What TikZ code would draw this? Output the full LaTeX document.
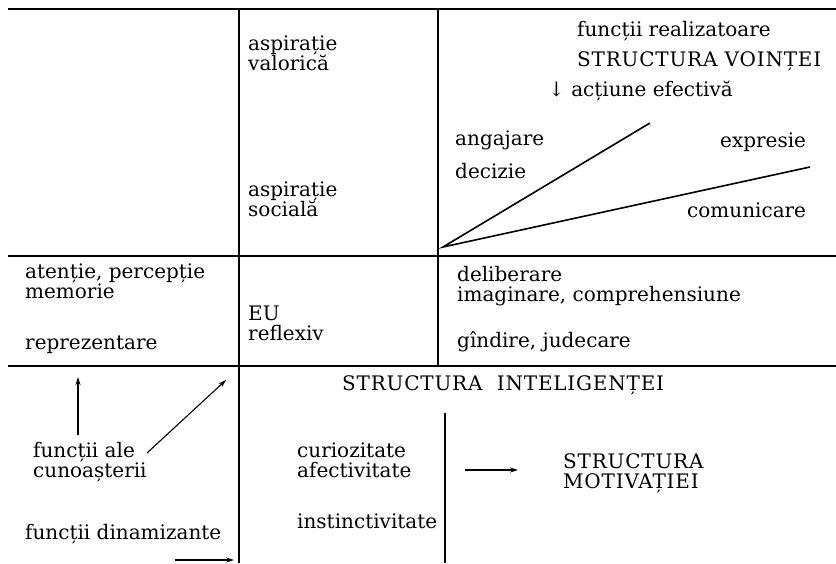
\documentclass[tikz,border=0pt]{standalone}
\usepackage{fontspec}
\setmainfont{DejaVu Serif}
\usetikzlibrary{arrows.meta}

\tikzset{
  lbl/.style={anchor=west, inner sep=0pt, align=left, font=\fontsize{20}{20}\selectfont},
  caps/.style={lbl, font=\fontsize{20}{20}\selectfont\addfontfeature{LetterSpace=4}},
  rule/.style={line width=1.5pt},
  arr/.style={line width=1.1pt, -{Stealth[length=8pt,width=5pt]}}
}

\begin{document}
\begin{tikzpicture}[x=1pt,y=-1pt]

    \useasboundingbox (0,0) rectangle (836,563);

    % Define the coordinates of the grid
    \coordinate (TL) at (8,9);
    \coordinate (TR) at (836,9);
    \coordinate (ML) at (8,256);
    \coordinate (MR) at (836,256);
    \coordinate (BL) at (8,366);
    \coordinate (BR) at (836,366);

    % Draw the grid lines
    \draw[rule] (TL) -- (TR);
    \draw[rule] (ML) -- (MR);
    \draw[rule] (BL) -- (BR);
    \draw[rule] (239,9) -- (239,563);
    \draw[rule] (438,9) -- (438,366);
    \draw[rule] (445,413) -- (445,563);

    % Top row
    \node[lbl] (asval) at (248,53) {aspirație\\valorică};
    \node[lbl] (assoc) at (248,199) {aspirație\\socială};
    \node[lbl] (funcreal) at (577,31) {funcții realizatoare};
    \node[caps] (voin) at (577,61) {STRUCTURA VOINȚEI};
    \node[lbl] (actiune) at (548,91) {↓ acțiune efectivă};
    \node[lbl] (angaj) at (455,140) {angajare};
    \node[lbl] (expr) at (720,142) {expresie};
    \node[lbl] (decizie) at (455,171) {decizie};
    \node[lbl] (comun) at (687,210) {comunicare};

    % The two lines of the angle
    \coordinate (apex) at (443,247);
    \coordinate (upEnd) at (650,123);
    \coordinate (lowEnd) at (810,167);
    \draw[line width=1.6pt] (upEnd) -- (apex) -- (lowEnd);

    % Middle row
    \node[lbl] (atentie) at (25,281) {atenție, percepție\\memorie};
    \node[lbl] (reprez) at (25,345) {reprezentare};
    \node[lbl] (eu) at (248,323) {EU\\reflexiv};
    \node[lbl] (delib) at (457,286) {deliberare\\imaginare, comprehensiune};
    \node[lbl] (gindire) at (457,342) {gîndire, judecare};

    % Bottom row
    \node[caps] (intelig) at (342,385) {STRUCTURA\ \ INTELIGENȚEI};
    \node[lbl] (cunoast) at (33,462) {funcții ale\\cunoașterii};
    \node[lbl] (dinam) at (25,534) {funcții dinamizante};
    \node[lbl] (curioz) at (297,460) {curiozitate\\afectivitate};
    \node[lbl] (instinct) at (297,521) {instinctivitate};
    \node[caps] (motiv) at (563,473) {STRUCTURA\\MOTIVAȚIEI};

    % Arrows
    \coordinate (upA) at (78,435);
    \coordinate (upB) at (78,377);
    \coordinate (diagA) at (147,453);
    \coordinate (diagB) at (226,380);
    \coordinate (dinA) at (175,560);
    \coordinate (dinB) at (234,560);
    \coordinate (motA) at (465,470);
    \coordinate (motB) at (518,470);
    \draw[arr] (upA) -- (upB);
    \draw[arr] (diagA) -- (diagB);
    \draw[arr] (dinA) -- (dinB);
    \draw[arr] (motA) -- (motB);

\end{tikzpicture}
\end{document}
